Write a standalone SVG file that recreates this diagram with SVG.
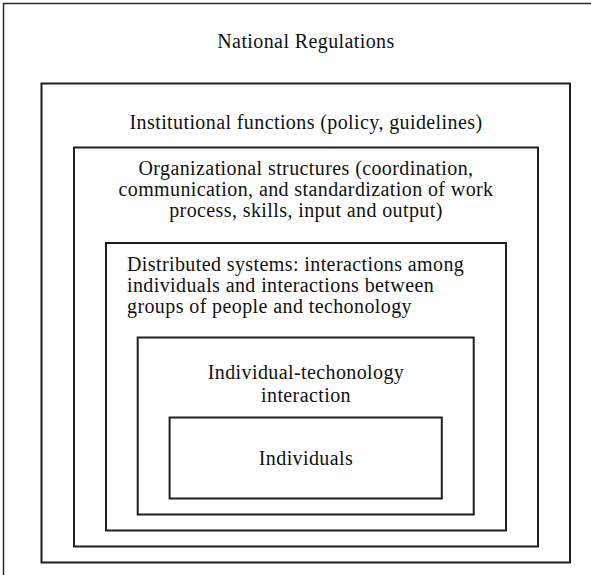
<svg xmlns="http://www.w3.org/2000/svg" width="591" height="575" viewBox="0 0 591 575">
<style>
.box{fill:none;stroke:#1e1e1e;stroke-width:2}
.frame{fill:none;stroke:#2a2a2a;stroke-width:1.5}
.c{text-anchor:middle}
</style>
<rect width="591" height="575" fill="#fff"/>
<g font-family="'Liberation Serif', 'Times New Roman', Times, serif" font-size="20" letter-spacing="0.4" fill="#111">
<g id="national">
<path class="frame" d="M3.5,575 V3.5 H591"/>
<text class="c" x="306" y="48">National Regulations</text>
</g>
<g id="institutional">
<rect class="box" x="41.5" y="83.5" width="528.5" height="479"/>
<text class="c" x="306" y="128.5">Institutional functions (policy, guidelines)</text>
</g>
<g id="organizational">
<rect class="box" x="74" y="147.5" width="464" height="399"/>
<text class="c" x="306" y="174.5">Organizational structures (coordination,</text>
<text class="c" x="306" y="195.5">communication, and standardization of work</text>
<text class="c" x="306" y="216.5">process, skills, input and output)</text>
</g>
<g id="distributed">
<rect class="box" x="106" y="243" width="400" height="287.5"/>
<text x="127" y="270.5">Distributed systems: interactions among</text>
<text x="127" y="291.5">individuals and interactions between</text>
<text x="127" y="312.5">groups of people and techonology</text>
</g>
<g id="individual-technology">
<rect class="box" x="137.7" y="337.5" width="336" height="177"/>
<text class="c" x="306" y="378.5">Individual-techonology</text>
<text class="c" x="306" y="402">interaction</text>
</g>
<g id="individuals">
<rect class="box" x="169.6" y="417.5" width="272.2" height="81"/>
<text class="c" x="306" y="465">Individuals</text>
</g>
</g>
</svg>
